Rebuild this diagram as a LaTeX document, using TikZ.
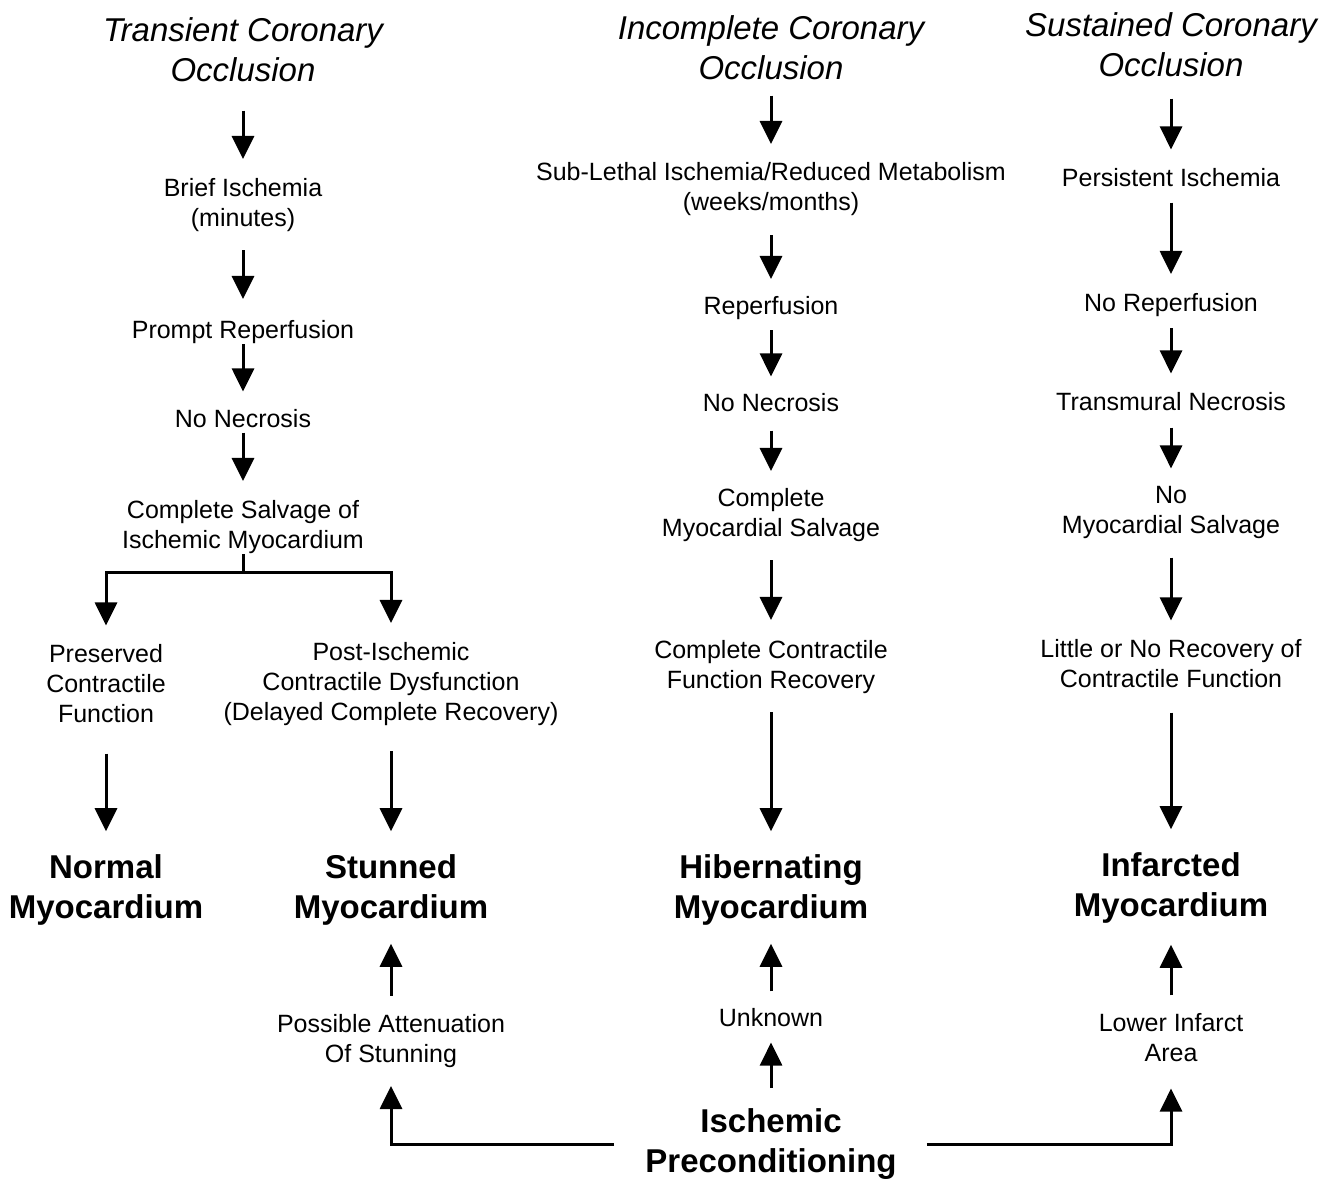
\documentclass[tikz,border=0pt]{standalone}
\usepackage{fontspec}
\setmainfont{Liberation Sans}
\usetikzlibrary{arrows.meta,positioning,calc}

\begin{document}
\begin{tikzpicture}[
    x=0.5pt, y=-0.5pt,
    txt/.style={align=center, inner sep=0pt, yshift=-1pt, font=\fontsize{12.5}{15}\selectfont},
    head/.style={align=center, inner sep=0pt, font=\fontsize{16.5}{20}\selectfont\itshape},
    outcome/.style={align=center, inner sep=0pt, yshift=-1.5pt, font=\fontsize{16.5}{20}\selectfont\bfseries},
    arrow/.style={-{Triangle[width=11pt,length=11.5pt]}, line width=1.5pt, shorten <=9pt, shorten >=9pt},
    plain/.style={line width=1.5pt}
]
\useasboundingbox (0,0) rectangle (1333,1178);

% transient occlusion
\node[head] (thead) at (243,50) {Transient Coronary\\Occlusion};
\node[txt] (brief) at (243,203) {Brief Ischemia\\(minutes)};
\node[txt] (prompt) at (243,330) {Prompt Reperfusion};
\node[txt] (nonecA) at (243,417) {No Necrosis};
\node[txt] (salvA) at (243,525) {Complete Salvage of\\Ischemic Myocardium};
\coordinate (split) at (243,572);
\node[txt] (pres) at (106,682) {Preserved\\Contractile\\Function};
\node[txt] (postis) at (391,682) {Post-Ischemic\\Contractile Dysfunction\\(Delayed Complete Recovery)};
\node[outcome] (normal) at (106,887) {Normal\\Myocardium};
\node[outcome] (stunned) at (391,887) {Stunned\\Myocardium};
\node[txt] (atten) at (391,1039) {Possible Attenuation\\Of Stunning};

% incomplete occlusion
\node[head] (ihead) at (771,48) {Incomplete Coronary\\Occlusion};
\node[txt] (sublethal) at (771,187) {Sub-Lethal Ischemia/Reduced Metabolism\\(weeks/months)};
\node[txt] (reperf) at (771,306) {Reperfusion};
\node[txt] (nonecB) at (771,401) {No Necrosis};
\node[txt] (salvB) at (771,513) {Complete\\Myocardial Salvage};
\node[txt] (recov) at (771,665) {Complete Contractile\\Function Recovery};
\node[outcome] (hib) at (771,887) {Hibernating\\Myocardium};
\node[txt] (unknown) at (771,1016) {Unknown};
\node[outcome] (precond) at (771,1141) {Ischemic\\Preconditioning};

% sustained occlusion
\node[head] (shead) at (1171,45) {Sustained Coronary\\Occlusion};
\node[txt] (persist) at (1171,176) {Persistent Ischemia};
\node[txt] (noreperf) at (1171,303) {No Reperfusion};
\node[txt] (transm) at (1171,400) {Transmural Necrosis};
\node[txt] (nosalv) at (1171,510) {No\\Myocardial Salvage};
\node[txt] (little) at (1171,662) {Little or No Recovery of\\Contractile Function};
\node[outcome] (infarct) at (1171,885) {Infarcted\\Myocardium};
\node[txt] (lower) at (1171,1036) {Lower Infarct\\Area};

\draw[arrow, shorten <=14pt, shorten >=9.5pt] (thead) -- (brief);
\draw[arrow, shorten >=10.5pt] (brief) -- (prompt);
\draw[arrow, shorten <=0pt] (prompt) -- (nonecA);
\draw[arrow, shorten <=2pt, shorten >=9.5pt] (nonecA) -- (salvA);
\draw[plain] (salvA) -- (split);
\draw[arrow, shorten <=0pt, shorten >=9.5pt] (split) -| (pres);
\draw[arrow, shorten <=0pt, shorten >=9.5pt] (split) -| (postis);
\draw[arrow, shorten <=15pt, shorten >=11.5pt] (pres) -- (normal);
\draw[arrow, shorten <=12.5pt, shorten >=11.5pt] (postis) -- (stunned);
\draw[arrow, shorten >=9pt] (atten) -- (stunned);
\draw[arrow, shorten <=15.5pt] (precond.west) -| (atten);

\draw[arrow, shorten <=7.5pt] (ihead) -- (sublethal);
\draw[arrow, shorten <=9.5pt, shorten >=8.5pt] (sublethal) -- (reperf);
\draw[arrow, shorten <=5pt, shorten >=8.5pt] (reperf) -- (nonecB);
\draw[arrow, shorten >=8.5pt] (nonecB) -- (salvB);
\draw[arrow, shorten >=10pt] (salvB) -- (recov);
\draw[arrow, shorten >=11.5pt] (recov) -- (hib);
\draw[arrow, shorten <=8.5pt, shorten >=9pt] (unknown) -- (hib);
\draw[arrow, shorten <=10pt, shorten >=7.5pt] (precond) -- (unknown);

\draw[arrow, shorten <=10.5pt, shorten >=9.5pt] (shead) -- (persist);
\draw[arrow, shorten <=7.5pt, shorten >=9.5pt] (persist) -- (noreperf);
\draw[arrow, shorten <=5.5pt, shorten >=9.5pt] (noreperf) -- (transm);
\draw[arrow, shorten <=8pt, shorten >=8.5pt] (transm) -- (nosalv);
\draw[arrow, shorten <=9.5pt, shorten >=9.5pt] (nosalv) -- (little);
\draw[arrow, shorten <=12pt, shorten >=11.5pt] (little) -- (infarct);
\draw[arrow, shorten >=10.5pt] (lower) -- (infarct);
\draw[arrow, shorten <=15pt, shorten >=13pt] (precond.east) -| (lower);
\end{tikzpicture}
\end{document}
